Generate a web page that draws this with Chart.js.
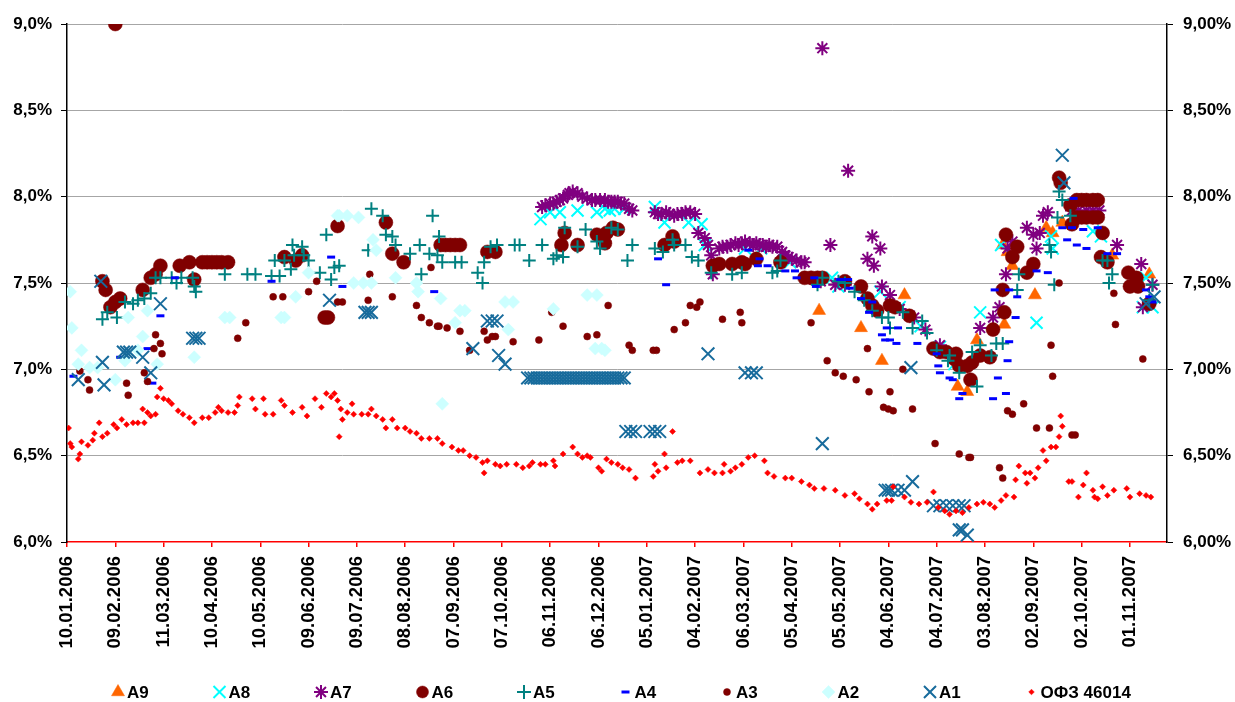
<!DOCTYPE html>
<html>
<head>
<meta charset="utf-8">
<title>Доходности</title>
<script src="https://cdn.jsdelivr.net/npm/chart.js@4.4.1/dist/chart.umd.min.js"></script>
<style>
  html, body { margin: 0; padding: 0; background: #fff; }
  #wrap { width: 1235px; height: 702px; }
</style>
</head>
<body>
<div id="wrap"><canvas id="chart" width="1235" height="702"></canvas></div>
<script>
// x values are days counted from 10.01.2006, y values are yields in %
var tickDays = [0, 30, 60, 90, 120, 150, 180, 210, 240, 270, 300, 330, 360, 390, 420, 450, 480, 510, 540, 570, 600, 630, 660];
var lastDay = 683;

var a9 = [[467,7.34],[493,7.24],[506,7.05],[520,7.43],[553,6.90],[559,6.87],[565,7.17],[581,7.72],[582,7.26],[584,7.68],[587,7.60],[601,7.43],[608,7.82],[612,7.79],[618,7.85],[649,7.66],[672,7.55]];

var a8 = [[294,7.87],[300,7.91],[306,7.91],[317,7.92],[329,7.91],[334,7.93],[337,7.92],[340,7.93],[346,7.93],[365,7.94],[371,7.85],[386,7.85],[394,7.84],[396,7.72],[421,7.70],[431,7.70],[449,7.62],[475,7.53],[479,7.48],[505,7.45],[517,7.36],[530,7.25],[542,7.13],[551,7.03],[567,7.33],[580,7.72],[602,7.27],[611,7.77],[612,7.70],[637,7.80],[642,7.77],[668,7.36],[670,7.53],[674,7.36]];

var a7 = [[295,7.94],[297,7.95],[300,7.96],[302,7.96],[304,7.97],[306,7.98],[308,7.99],[311,8.01],[312,8.02],[314,8.03],[317,8.02],[320,8.00],[323,7.99],[326,7.98],[328,7.98],[331,7.98],[334,7.98],[336,7.97],[338,7.97],[340,7.97],[342,7.97],[344,7.96],[346,7.96],[349,7.93],[351,7.92],[365,7.91],[367,7.90],[369,7.90],[372,7.91],[374,7.90],[377,7.89],[379,7.90],[382,7.90],[384,7.91],[387,7.91],[390,7.90],[392,7.79],[396,7.76],[398,7.72],[400,7.66],[401,7.55],[405,7.70],[407,7.71],[410,7.71],[412,7.72],[415,7.73],[417,7.72],[419,7.73],[421,7.74],[424,7.73],[426,7.72],[428,7.73],[430,7.72],[432,7.72],[434,7.71],[436,7.72],[438,7.71],[441,7.71],[444,7.68],[446,7.66],[448,7.65],[450,7.64],[453,7.63],[456,7.62],[458,7.62],[464,7.52],[468,7.51],[469,8.86],[474,7.72],[477,7.49],[483,7.49],[485,8.15],[497,7.64],[500,7.77],[501,7.60],[505,7.70],[506,7.48],[511,7.43],[517,7.35],[526,7.30],[533,7.23],[542,7.14],[551,7.08],[567,7.24],[575,7.30],[579,7.36],[583,7.55],[584,7.70],[587,7.74],[596,7.82],[600,7.78],[602,7.70],[604,7.79],[606,7.89],[609,7.91],[624,7.92],[628,7.92],[633,7.92],[637,7.92],[641,7.92],[652,7.72],[667,7.61],[668,7.36],[674,7.49]];

var a6 = [[22,7.51],[24,7.46],[27,7.36],[30,9.00],[30,7.39],[33,7.41],[47,7.46],[52,7.53],[55,7.55],[58,7.60],[70,7.60],[76,7.62],[79,7.52],[84,7.62],[87,7.62],[90,7.62],[93,7.62],[96,7.62],[100,7.62],[135,7.65],[142,7.63],[146,7.66],[160,7.30],[162,7.30],[168,7.83],[198,7.85],[202,7.67],[209,7.62],[232,7.72],[235,7.72],[238,7.72],[241,7.72],[244,7.72],[261,7.68],[266,7.68],[307,7.72],[309,7.79],[317,7.72],[329,7.78],[334,7.73],[335,7.79],[339,7.82],[342,7.81],[371,7.72],[376,7.77],[377,7.74],[401,7.60],[405,7.61],[413,7.61],[419,7.62],[421,7.61],[428,7.64],[443,7.62],[458,7.53],[462,7.53],[466,7.53],[469,7.53],[483,7.51],[493,7.48],[497,7.41],[500,7.37],[503,7.34],[511,7.37],[514,7.36],[523,7.31],[538,7.12],[542,7.10],[546,7.10],[551,7.06],[552,7.09],[554,7.02],[559,7.02],[561,6.94],[562,7.04],[567,7.08],[573,7.07],[575,7.23],[581,7.46],[582,7.33],[583,7.78],[587,7.65],[590,7.71],[596,7.56],[600,7.61],[616,8.11],[617,8.08],[623,7.95],[624,7.84],[627,7.98],[627,7.88],[630,7.98],[630,7.88],[633,7.98],[633,7.88],[637,7.98],[637,7.88],[640,7.98],[640,7.88],[642,7.65],[643,7.79],[646,7.62],[659,7.56],[660,7.48],[664,7.53],[665,7.48],[672,7.38]];

var a5 = [[22,7.29],[25,7.33],[31,7.30],[36,7.39],[41,7.38],[44,7.40],[48,7.41],[52,7.44],[55,7.53],[58,7.53],[65,7.53],[68,7.50],[71,7.53],[78,7.53],[79,7.48],[80,7.45],[98,7.55],[112,7.55],[117,7.55],[127,7.54],[129,7.63],[132,7.54],[135,7.63],[139,7.58],[140,7.72],[141,7.66],[146,7.71],[147,7.66],[150,7.63],[157,7.56],[161,7.78],[164,7.52],[166,7.59],[169,7.60],[187,7.69],[189,7.93],[196,7.89],[198,7.78],[202,7.77],[204,7.72],[213,7.67],[219,7.72],[220,7.55],[225,7.67],[227,7.89],[230,7.66],[231,7.77],[233,7.62],[241,7.62],[245,7.62],[255,7.56],[258,7.50],[259,7.62],[263,7.71],[267,7.72],[278,7.72],[281,7.72],[287,7.63],[295,7.72],[302,7.64],[304,7.66],[308,7.65],[309,7.82],[317,7.71],[322,7.81],[329,7.74],[331,7.70],[338,7.82],[342,7.81],[348,7.63],[351,7.72],[365,7.70],[370,7.68],[376,7.75],[377,7.72],[384,7.72],[388,7.65],[392,7.63],[400,7.56],[413,7.55],[419,7.56],[438,7.56],[441,7.57],[443,7.63],[466,7.49],[469,7.53],[479,7.51],[483,7.50],[489,7.45],[495,7.40],[500,7.34],[506,7.30],[510,7.30],[511,7.24],[519,7.33],[525,7.24],[531,7.28],[534,7.21],[540,7.11],[547,7.05],[548,7.08],[554,6.98],[562,7.10],[565,6.90],[567,7.14],[574,7.08],[577,7.15],[581,7.15],[590,7.46],[591,7.55],[610,7.72],[611,7.68],[613,7.49],[615,7.88],[616,8.03],[618,7.98],[623,7.89],[643,7.63],[646,7.63],[647,7.50],[649,7.55],[672,7.40],[674,7.49]];

var a4 = [[4,6.96],[33,7.07],[50,7.12],[53,6.92],[58,7.31],[67,7.53],[127,7.51],[164,7.65],[171,7.48],[228,7.45],[367,7.64],[372,7.49],[423,7.69],[429,7.60],[430,7.64],[435,7.60],[446,7.57],[452,7.57],[453,7.53],[464,7.53],[465,7.48],[480,7.52],[485,7.52],[486,7.47],[493,7.41],[498,7.33],[500,7.39],[506,7.20],[508,7.17],[509,7.24],[511,7.17],[515,7.15],[516,7.24],[528,7.15],[540,7.09],[541,7.02],[542,6.98],[548,6.95],[550,6.94],[554,6.83],[556,6.86],[575,6.83],[576,7.46],[578,6.95],[583,6.86],[584,7.05],[585,7.16],[585,7.46],[589,7.30],[590,7.42],[602,7.57],[609,7.56],[618,7.82],[621,7.75],[624,7.82],[625,7.99],[627,7.72],[631,7.81],[633,7.70],[640,7.82],[646,7.67],[652,7.67],[670,7.46],[672,7.42],[674,7.39]];

var a3 = [[8,6.99],[13,6.94],[14,6.88],[37,6.92],[38,6.85],[48,6.98],[50,6.93],[54,7.12],[55,7.20],[58,7.15],[59,7.09],[106,7.18],[111,7.27],[128,7.42],[134,7.42],[150,7.45],[155,7.51],[168,7.39],[171,7.39],[187,7.40],[188,7.55],[202,7.42],[217,7.37],[220,7.30],[225,7.27],[226,7.59],[230,7.25],[231,7.25],[236,7.24],[244,7.22],[250,7.11],[259,7.22],[261,7.17],[264,7.19],[266,7.19],[277,7.16],[293,7.17],[301,7.33],[308,7.25],[323,7.19],[329,7.20],[336,7.37],[349,7.14],[351,7.11],[364,7.11],[366,7.11],[377,7.23],[384,7.27],[387,7.37],[391,7.36],[393,7.39],[407,7.29],[418,7.33],[419,7.27],[462,7.27],[472,7.05],[477,6.98],[482,6.96],[490,6.94],[497,7.12],[498,6.87],[507,6.78],[510,6.77],[511,6.87],[513,6.76],[519,7.00],[525,6.77],[539,6.57],[554,6.51],[560,6.49],[561,6.49],[579,6.43],[581,6.37],[584,6.76],[587,6.74],[594,6.80],[602,6.66],[610,6.66],[611,7.14],[612,6.96],[616,7.50],[624,6.62],[626,6.62],[650,7.44],[651,7.26],[668,7.06]];

var a2 = [[2,7.45],[3,7.24],[7,7.03],[9,7.11],[14,7.01],[19,7.01],[30,6.94],[36,7.05],[38,7.30],[44,7.11],[47,7.19],[50,7.34],[56,7.03],[79,7.07],[98,7.30],[101,7.30],[133,7.30],[135,7.30],[142,7.42],[150,7.56],[168,7.89],[169,7.89],[174,7.89],[178,7.50],[181,7.88],[184,7.50],[189,7.50],[190,7.75],[192,7.69],[204,7.53],[217,7.50],[218,7.45],[232,7.41],[233,6.80],[241,7.27],[244,7.34],[247,7.34],[272,7.39],[274,7.23],[277,7.39],[302,7.35],[323,7.43],[328,7.12],[329,7.43],[332,7.12],[334,7.11]];

var a1 = [[7,6.94],[21,7.51],[22,7.04],[23,6.91],[35,7.10],[37,7.10],[39,7.10],[47,7.07],[52,6.98],[58,7.38],[78,7.18],[80,7.18],[82,7.18],[163,7.40],[185,7.33],[187,7.33],[189,7.33],[252,7.12],[261,7.28],[264,7.28],[267,7.28],[268,7.08],[272,7.03],
  [286,6.95],[288,6.95],[290,6.95],[292,6.95],[294,6.95],[296,6.95],[298,6.95],[300,6.95],[302,6.95],[304,6.95],[306,6.95],[308,6.95],[310,6.95],[312,6.95],[314,6.95],[316,6.95],[318,6.95],[320,6.95],[322,6.95],[324,6.95],[326,6.95],[328,6.95],[330,6.95],[332,6.95],[334,6.95],[336,6.95],[338,6.95],[340,6.95],[342,6.95],[344,6.95],[346,6.95],
  [347,6.64],[350,6.64],[353,6.64],[362,6.64],[365,6.64],[368,6.64],[398,7.09],[421,6.98],[425,6.98],[428,6.98],[469,6.57],[508,6.30],[510,6.30],[512,6.30],[516,6.30],[520,6.30],[524,7.01],[525,6.35],[538,6.21],[542,6.21],[546,6.21],[550,6.21],[554,6.21],[557,6.21],[554,6.07],[556,6.07],[559,6.04],[618,8.24],[619,8.08],[670,7.38],[675,7.42]];

var ofz = [[1,6.66],[2,6.57],[3,6.55],[7,6.48],[8,6.51],[9,6.58],[13,6.56],[16,6.59],[17,6.63],[20,6.69],[22,6.61],[25,6.63],[29,6.68],[31,6.66],[34,6.71],[37,6.68],[41,6.69],[44,6.69],[47,6.77],[48,6.69],[50,6.75],[52,6.73],[55,6.74],[56,6.84],[58,6.89],[60,6.83],[63,6.82],[65,6.80],[69,6.76],[72,6.74],[76,6.72],[79,6.69],[84,6.72],[88,6.72],[92,6.75],[94,6.78],[96,6.76],[100,6.75],[104,6.75],[106,6.79],[107,6.84],[115,6.83],[117,6.77],[122,6.83],[123,6.74],[128,6.74],[133,6.82],[135,6.79],[140,6.75],[146,6.78],[149,6.73],[154,6.83],[158,6.78],[161,6.86],[164,6.84],[166,6.86],[168,6.82],[169,6.61],[170,6.77],[171,6.71],[174,6.75],[177,6.80],[178,6.74],[183,6.74],[187,6.74],[189,6.77],[192,6.73],[196,6.71],[198,6.66],[202,6.71],[205,6.66],[210,6.66],[213,6.64],[217,6.63],[220,6.60],[225,6.60],[230,6.60],[233,6.57],[239,6.55],[243,6.53],[246,6.53],[250,6.50],[254,6.49],[258,6.46],[259,6.40],[261,6.47],[266,6.45],[269,6.44],[273,6.45],[279,6.45],[283,6.43],[287,6.44],[289,6.46],[294,6.45],[297,6.45],[302,6.47],[303,6.44],[308,6.51],[314,6.55],[317,6.51],[320,6.49],[323,6.50],[325,6.49],[330,6.43],[332,6.41],[335,6.48],[338,6.46],[342,6.45],[345,6.43],[349,6.42],[353,6.37],[364,6.38],[365,6.45],[367,6.41],[371,6.51],[372,6.43],[376,6.64],[379,6.46],[382,6.47],[387,6.47],[393,6.40],[398,6.42],[402,6.40],[407,6.40],[408,6.45],[412,6.41],[415,6.43],[419,6.45],[423,6.49],[427,6.50],[433,6.47],[435,6.40],[439,6.38],[446,6.37],[450,6.37],[456,6.35],[461,6.33],[464,6.31],[470,6.31],[477,6.30],[483,6.27],[489,6.28],[492,6.25],[497,6.22],[500,6.19],[503,6.22],[509,6.24],[512,6.24],[513,6.32],[520,6.26],[524,6.23],[529,6.22],[534,6.23],[538,6.29],[541,6.20],[545,6.18],[548,6.16],[552,6.18],[556,6.17],[560,6.20],[565,6.22],[569,6.23],[573,6.22],[576,6.20],[580,6.24],[583,6.27],[588,6.26],[589,6.36],[591,6.44],[595,6.40],[596,6.34],[598,6.40],[601,6.37],[603,6.43],[606,6.53],[608,6.47],[611,6.55],[614,6.55],[616,6.61],[617,6.73],[618,6.67],[622,6.35],[624,6.35],[628,6.26],[631,6.33],[633,6.40],[637,6.30],[638,6.26],[640,6.25],[643,6.32],[646,6.27],[650,6.30],[658,6.31],[660,6.26],[666,6.28],[670,6.27],[673,6.26]];

var FONT = '"Liberation Sans", Arial, sans-serif';
Chart.defaults.font.family = FONT;
Chart.defaults.font.size = 17;
Chart.defaults.font.weight = 'bold';
Chart.defaults.color = '#000';

function pts(arr) {
    return arr.map(function(p){ return {x: p[0], y: p[1]}; });
}

function dayLabel(d) {
    var dt = new Date(2006, 0, 10 + d);
    var dd = ('0' + dt.getDate()).slice(-2);
    var mm = ('0' + (dt.getMonth() + 1)).slice(-2);
    return dd + '.' + mm + '.' + dt.getFullYear();
}

function series(label, data, style, radius, fill, stroke, bw, legendRadius) {
    return {
        label: label,
        data: pts(data),
        pointStyle: style,
        pointRadius: radius,
        pointBackgroundColor: fill,
        pointBorderColor: stroke,
        pointBorderWidth: bw,
        backgroundColor: fill,
        borderColor: stroke,
        borderWidth: bw,
        legendRadius: legendRadius,
        showLine: false
    };
}

var datasets = [
    series('A9', a9, 'triangle', 7.5, '#FF6600', '#FF6600', 0.5, 7.5),
    series('A8', a8, 'crossRot', 8.5, '#00FFFF', '#00FFFF', 2, 8.5),
    series('A7', a7, 'star', 7, '#800080', '#800080', 2, 7),
    series('A6', a6, 'circle', 7, '#800000', '#800000', 0.5, 6),
    series('A5', a5, 'cross', 6.5, '#008080', '#008080', 2, 7),
    series('A4', a4, 'line', 4, '#0000FF', '#0000FF', 3, 4),
    series('A3', a3, 'circle', 3.5, '#800000', '#800000', 0.5, 3.5),
    series('A2', a2, 'rectRot', 6.5, '#CCFFFF', '#CCFFFF', 0.5, 6.5),
    series('A1', a1, 'crossRot', 9, '#176B9C', '#176B9C', 2, 8.5),
    series('ОФЗ 46014', ofz, 'rectRot', 3, '#FF0000', '#FF0000', 0.5, 2.8)
];
// first legend entry sits at the bottom of the stack
datasets.forEach(function(ds, i){ ds.order = datasets.length - i; });

var bottomLegend = {
    id: 'bottomLegend',
    afterDraw: function(chart) {
        var ctx = chart.ctx;
        ctx.save();
        ctx.font = 'bold 17px ' + FONT;
        ctx.textBaseline = 'middle';
        ctx.textAlign = 'left';
        chart.data.datasets.forEach(function(ds, i) {
            var x = 118 + i * 101.5, y = 692;
            ctx.fillStyle = ds.backgroundColor;
            ctx.strokeStyle = ds.borderColor;
            ctx.lineWidth = ds.borderWidth;
            Chart.helpers.drawPoint(ctx, {pointStyle: ds.pointStyle, radius: ds.legendRadius, rotation: 0, borderWidth: ds.borderWidth}, x, y);
            ctx.fillStyle = '#000';
            ctx.fillText(ds.label, x + 9, y + 1);
        });
        ctx.restore();
    }
};

var yTickFont = {size: 17, weight: 'bold'};

new Chart(document.getElementById('chart'), {
    type: 'scatter',
    data: {datasets: datasets},
    options: {
        responsive: false,
        animation: false,
        events: [],
        layout: {padding: {top: 24, left: 0, right: 0, bottom: 0}},
        plugins: {legend: {display: false}, tooltip: {enabled: false}},
        scales: {
            x: {
                type: 'linear',
                min: 0,
                max: lastDay,
                afterBuildTicks: function(s){ s.ticks = tickDays.map(function(v){ return {value: v}; }); },
                afterFit: function(s){ s.height = 160; },
                ticks: {
                    autoSkip: false, minRotation: 90, maxRotation: 90, padding: 9,
                    font: {size: 18.5, weight: 'bold'},
                    callback: function(v){ return dayLabel(v); }
                },
                grid: {drawOnChartArea: false, tickLength: 5, color: '#FF0000', tickColor: '#FF0000', lineWidth: 1.5},
                border: {color: '#FF0000', width: 1.5}
            },
            y: {
                position: 'left',
                min: 6, max: 9,
                afterFit: function(s){ s.width = 67; },
                ticks: {
                    stepSize: 0.5, padding: 9, font: yTickFont,
                    callback: function(v){ return v.toFixed(1).replace('.', ',') + '%'; }
                },
                grid: {
                    tickLength: 6, tickColor: '#000', lineWidth: 1,
                    color: function(c){ return c.tick && c.tick.value === 6 ? 'rgba(0,0,0,0)' : '#A6A6A6'; }
                },
                border: {color: '#000', width: 1.5}
            },
            y2: {
                position: 'right',
                min: 6, max: 9,
                afterFit: function(s){ s.width = 68; },
                ticks: {
                    stepSize: 0.5, padding: 10, font: yTickFont,
                    callback: function(v){ return v.toFixed(2).replace('.', ',') + '%'; }
                },
                grid: {drawOnChartArea: false, tickLength: 6, tickColor: '#000', color: '#000'},
                border: {color: '#000', width: 1.5}
            }
        }
    },
    plugins: [bottomLegend]
});
</script>
</body>
</html>
